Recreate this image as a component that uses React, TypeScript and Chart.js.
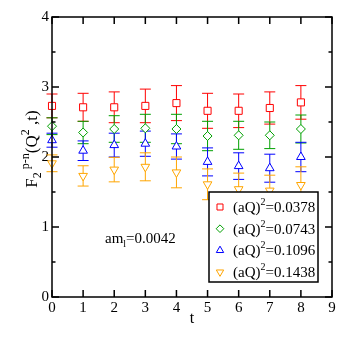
import React, { useEffect, useRef } from "react";
import { Chart, registerables } from "chart.js";
Chart.register(...registerables);

const tValues = [0, 1, 2, 3, 4, 5, 6, 7, 8];
const q2Labels = ["0.0378", "0.0743", "0.1096", "0.1438"];
const redVals = [2.73, 2.71, 2.71, 2.73, 2.77, 2.66, 2.66, 2.70, 2.78];
const redErrs = [0.17, 0.20, 0.22, 0.24, 0.25, 0.25, 0.24, 0.23, 0.24];
const greenVals = [2.44, 2.35, 2.40, 2.41, 2.40, 2.30, 2.31, 2.31, 2.40];
const greenErrs = [0.12, 0.16, 0.19, 0.20, 0.21, 0.21, 0.20, 0.19, 0.20];
const blueVals = [2.24, 2.09, 2.17, 2.19, 2.15, 1.93, 1.87, 1.84, 2.00];
const blueErrs = [0.10, 0.14, 0.17, 0.18, 0.18, 0.20, 0.19, 0.20, 0.21];
const orangeVals = [1.91, 1.73, 1.82, 1.86, 1.78, 1.61, 1.54, 1.52, 1.60];
const orangeErrs = [0.12, 0.145, 0.175, 0.20, 0.22, 0.22, 0.23, 0.22, 0.26];
const xTicks = [0, 1, 2, 3, 4, 5, 6, 7, 8, 9];
const yTicks = [0, 1, 2, 3, 4];
const yMinorTicks = [0.5, 1.5, 2.5, 3.5];

const COLORS = ["#ff0000", "#00a000", "#0000ff", "#ffa500"];
const STYLES = ["rect", "rectRot", "triangle", "triangle"];
const ROTS = [0, 0, 0, 180];
const RADII = [5, 4.5, 5, 5];
const SERIES = [redVals, greenVals, blueVals, orangeVals];
const ERRS = [redErrs, greenErrs, blueErrs, orangeErrs];

const FONT = "'Liberation Serif', 'DejaVu Serif', serif";

function drawRich(ctx: CanvasRenderingContext2D, parts: [string, number, number][], x: number, y: number) {
  let cx = x;
  for (const [txt, size, dy] of parts) {
    ctx.font = `${size}px ${FONT}`;
    ctx.fillText(txt, cx, y + dy);
    cx += ctx.measureText(txt).width;
  }
  return cx - x;
}
function richWidth(ctx: CanvasRenderingContext2D, parts: [string, number, number][]) {
  let w = 0;
  for (const [txt, size] of parts) {
    ctx.font = `${size}px ${FONT}`;
    w += ctx.measureText(txt).width;
  }
  return w;
}

function drawMarker(ctx: CanvasRenderingContext2D, style: string, r: number, rotDeg: number, x: number, y: number) {
  const rot = (rotDeg * Math.PI) / 180;
  ctx.beginPath();
  if (style === "rect") {
    const s = Math.SQRT1_2 * r;
    ctx.rect(x - s, y - s, 2 * s, 2 * s);
  } else if (style === "rectRot") {
    ctx.moveTo(x, y - r); ctx.lineTo(x + r, y); ctx.lineTo(x, y + r); ctx.lineTo(x - r, y); ctx.closePath();
  } else {
    let ang = rot;
    ctx.moveTo(x + Math.sin(ang) * r, y - Math.cos(ang) * r);
    ang += (2 * Math.PI) / 3;
    ctx.lineTo(x + Math.sin(ang) * r, y - Math.cos(ang) * r);
    ang += (2 * Math.PI) / 3;
    ctx.lineTo(x + Math.sin(ang) * r, y - Math.cos(ang) * r);
    ctx.closePath();
  }
  ctx.fill();
  ctx.stroke();
}

const decorPlugin = {
  id: "decor",
  beforeDatasetsDraw(chart: any) {
    const ctx = chart.ctx as CanvasRenderingContext2D;
    const xs = chart.scales.x, ys = chart.scales.y;
    ctx.save();
    ctx.lineWidth = 1;
    SERIES.forEach((vals, si) => {
      ctx.strokeStyle = COLORS[si];
      vals.forEach((v, i) => {
        const px = xs.getPixelForValue(tValues[i]);
        const top = ys.getPixelForValue(v + ERRS[si][i]);
        const bot = ys.getPixelForValue(v - ERRS[si][i]);
        ctx.beginPath();
        ctx.moveTo(px, top); ctx.lineTo(px, bot);
        ctx.moveTo(px - 5.5, top); ctx.lineTo(px + 5.5, top);
        ctx.moveTo(px - 5.5, bot); ctx.lineTo(px + 5.5, bot);
        ctx.stroke();
      });
    });
    ctx.restore();
  },
  afterDraw(chart: any) {
    const ctx = chart.ctx as CanvasRenderingContext2D;
    const xs = chart.scales.x, ys = chart.scales.y;
    const a = chart.chartArea;
    ctx.save();
    ctx.strokeStyle = "#000";
    ctx.lineWidth = 1.5;
    ctx.strokeRect(a.left, a.top, a.right - a.left, a.bottom - a.top);
    ctx.beginPath();
    xTicks.forEach((t) => {
      const px = xs.getPixelForValue(t);
      ctx.moveTo(px, a.bottom); ctx.lineTo(px, a.bottom - 7);
      ctx.moveTo(px, a.top); ctx.lineTo(px, a.top + 7);
    });
    yTicks.forEach((t) => {
      const py = ys.getPixelForValue(t);
      ctx.moveTo(a.left, py); ctx.lineTo(a.left + 7, py);
      ctx.moveTo(a.right, py); ctx.lineTo(a.right - 7, py);
    });
    yMinorTicks.forEach((t) => {
      const py = ys.getPixelForValue(t);
      ctx.moveTo(a.left, py); ctx.lineTo(a.left + 3.5, py);
      ctx.moveTo(a.right, py); ctx.lineTo(a.right - 3.5, py);
    });
    ctx.stroke();

    ctx.fillStyle = "#000";
    ctx.textBaseline = "alphabetic";
    ctx.textAlign = "left";
    // x title
    ctx.font = `16px ${FONT}`;
    const tw = ctx.measureText("t").width;
    ctx.fillText("t", (a.left + a.right) / 2 - tw / 2, 323);
    // y title
    const yParts: [string, number, number][] = [
      ["F", 17, 0], ["2", 12, 4], [" p-n", 12, -8], ["(Q", 17, 0], ["2", 12, -8], [" ,t)", 17, 0],
    ];
    const yw = richWidth(ctx, yParts);
    ctx.save();
    ctx.translate(37, 149);
    ctx.rotate(-Math.PI / 2);
    drawRich(ctx, yParts, -yw / 2, 0);
    ctx.restore();
    // annotation
    drawRich(ctx, [["am", 15, 0], ["l", 10, 4], ["=0.0042", 15, 0]], 105, 243);

    // legend
    const lx = 209, ly = 192, lw = 109, lh = 90;
    ctx.fillStyle = "#fff";
    ctx.fillRect(lx, ly, lw, lh);
    ctx.strokeStyle = "#000";
    ctx.lineWidth = 1.5;
    ctx.strokeRect(lx, ly, lw, lh);
    q2Labels.forEach((q, i) => {
      const cy = 207 + i * 21.7;
      ctx.save();
      ctx.strokeStyle = COLORS[i];
      ctx.fillStyle = "#fff";
      ctx.lineWidth = 1;
      drawMarker(ctx, STYLES[i], RADII[i] * 0.85, ROTS[i], 220, cy);
      ctx.restore();
      ctx.fillStyle = "#000";
      drawRich(ctx, [["(aQ)", 15, 0], ["2", 10, -7], ["=" + q, 15, 0]], 233, cy + 5);
    });
    ctx.restore();
  },
};

export default function App() {
  const ref = useRef<HTMLCanvasElement>(null);
  useEffect(() => {
    if (!ref.current) return;
    const tickFont = { family: "Liberation Serif", size: 15 };
    const chart = new Chart(ref.current, {
      type: "line",
      data: {
        datasets: SERIES.map((vals, si) => ({
          label: q2Labels[si],
          data: vals.map((v, i) => ({ x: tValues[i], y: v })),
          showLine: false,
          clip: false,
          borderColor: COLORS[si],
          backgroundColor: "#fff",
          pointStyle: STYLES[si] as any,
          pointRotation: ROTS[si],
          pointRadius: RADII[si],
          pointBorderWidth: 1,
          pointBackgroundColor: "#fff",
          pointBorderColor: COLORS[si],
        })),
      },
      options: {
        responsive: false,
        animation: false,
        events: [],
        layout: { padding: { top: 17, right: 17, left: 0, bottom: 0 } },
        plugins: { legend: { display: false }, tooltip: { enabled: false } },
        scales: {
          x: {
            type: "linear",
            min: 0,
            max: 9,
            ticks: { stepSize: 1, font: tickFont, color: "#000", padding: 2, maxRotation: 0, autoSkip: false },
            grid: { display: false, drawTicks: false },
            border: { display: false },
            afterFit: (s: any) => { s.height = 52; },
          },
          y: {
            type: "linear",
            min: 0,
            max: 4,
            ticks: { stepSize: 1, font: tickFont, color: "#000", padding: 3 },
            grid: { display: false, drawTicks: false },
            border: { display: false },
            afterFit: (s: any) => { s.width = 52; },
          },
        },
      } as any,
      plugins: [decorPlugin],
    });
    return () => chart.destroy();
  }, []);
  return (
    <div style={{ position: "absolute", left: 0, top: 0, width: 349, height: 349, background: "#fff" }}>
      <canvas ref={ref} width={349} height={349} style={{ display: "block", width: 349, height: 349 }} />
    </div>
  );
}
